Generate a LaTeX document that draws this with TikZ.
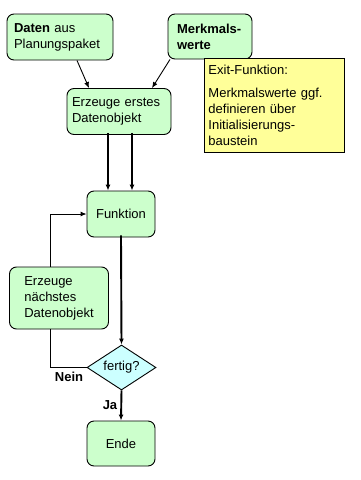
\documentclass[tikz,border=0pt]{standalone}
\usepackage{fontspec}
\setmainfont{Liberation Sans}
\usetikzlibrary{shapes.geometric,arrows.meta,calc}
\definecolor{boxgreen}{HTML}{CCFFCC}
\definecolor{boxcyan}{HTML}{CCFFFF}
\definecolor{boxyellow}{HTML}{FFFF99}
\begin{document}
\begin{tikzpicture}[x=1pt,y=-1pt,
  every node/.style={font=\fontsize{13}{16}\selectfont},
  gbox/.style={draw=black,line width=0.9pt,fill=boxgreen,rounded corners=7pt,inner sep=0pt},
  thin/.style={line width=0.9pt},
  thick/.style={line width=1.9pt},
  arr/.style={-{Latex[length=6pt,width=5pt]}}
]
\useasboundingbox[fill=white] (0,0) rectangle (360,480);
\node[gbox,minimum width=104,minimum height=46,text width=92,inner xsep=7,align=left] (daten) at (60,37) {\textbf{Daten} aus\\Planungspaket};
\node[gbox,minimum width=84,minimum height=45,text width=66,inner xsep=9,align=left] (merk) at (210,36.5) {\textbf{Merkmals-}\\\textbf{werte}};
\node[draw=black,line width=0.9pt,fill=boxyellow,anchor=north west,minimum width=140,minimum height=94,text width=132,inner xsep=4,inner ysep=0,align=left] (exit) at (204,58) {Exit-Funktion:\\[7pt]Merkmalswerte ggf.\\definieren über\\Initialisierungs-\\baustein};
\node[gbox,minimum width=102,minimum height=46,text width=94,inner xsep=5,align=left] (e1) at (119,111.5) {Erzeuge erstes\\Datenobjekt};
\node[gbox,minimum width=68,minimum height=46] (funk) at (121,214) {Funktion};
\node[gbox,minimum width=99,minimum height=62,align=left] (e2) at (59,298) {Erzeuge\\nächstes\\Datenobjekt};
\node[draw=black,line width=0.9pt,fill=boxcyan,diamond,aspect=1.5,inner sep=0pt,minimum width=69,minimum height=45] (dia) at (121.5,367.5) {fertig?};
\node[gbox,minimum width=68,minimum height=45] (ende) at (121,443.5) {Ende};
\node[font=\fontsize{13}{16}\bfseries\selectfont] (nein) at (69,377) {Nein};
\node[font=\fontsize{13}{16}\bfseries\selectfont] (ja) at (110,405) {Ja};
% connectors
\draw[thin,arr] ([xshift=17]daten.south) -- ([xshift=-30]e1.north);
\draw[thin,arr] ([xshift=-40]merk.south) -- ([xshift=33]e1.north);
\draw[thick,arr] ([xshift=-11,yshift=2]e1.south) -- ([xshift=-11]e1.south |- funk.north);
\draw[thick,arr] ([xshift=13,yshift=2]e1.south) -- ([xshift=13]e1.south |- funk.north);
\draw[thick,arr] ([yshift=2]funk.south) -- (dia.north);
\draw[thick,arr] (dia.south) -- (ende.north);
\draw[thin] (dia.west) -- ([xshift=-9]e2.south |- dia.west) -- ([xshift=-9]e2.south);
\draw[thin,arr] ([xshift=-9]e2.north) -- ([xshift=-9]e2.north |- funk.west) -- (funk.west);
\end{tikzpicture}
\end{document}
